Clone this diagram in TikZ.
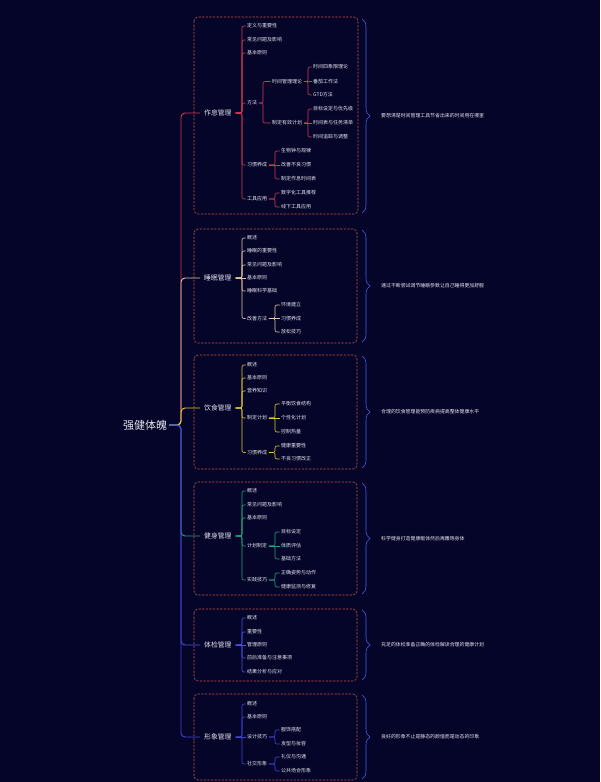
\documentclass[tikz,border=0pt]{standalone}
\usepackage{fontspec}
\setmainfont{Noto Sans CJK SC}
\usetikzlibrary{decorations.pathreplacing}
\definecolor{bg}{HTML}{05052A}
\definecolor{cZx}{HTML}{D63A50}
\definecolor{cSm}{HTML}{E6C8A0}
\definecolor{cYs}{HTML}{E3C62E}
\definecolor{cJs}{HTML}{23A57A}
\definecolor{cTj}{HTML}{4B50E3}
\definecolor{cXx}{HTML}{4046D8}
\definecolor{boxc}{HTML}{C8543A}
\definecolor{bracec}{HTML}{4D5BE6}
\definecolor{txt}{HTML}{E4E4EE}
\tikzset{
  rootst/.style={text=txt,inner sep=2pt,font=\fontsize{11}{13}\selectfont},
  mainst/.style={text=txt,anchor=west,inner sep=4pt,font=\fontsize{6.8}{8}\selectfont},
  leaf/.style={text=txt,anchor=west,inner sep=1.5pt,font=\fontsize{5}{6}\selectfont},
  sumst/.style={text=txt,anchor=west,inner sep=1pt,font=\fontsize{4.9}{6}\selectfont},
  mainlink/.style={line width=0.9pt,rounded corners=4pt},
  link/.style={line width=0.6pt,rounded corners=2pt},
  boxst/.style={draw=boxc,line width=0.6pt,dash pattern=on 2.2pt off 1.4pt,rounded corners=4pt},
  bracest/.style={draw=bracec,line width=0.6pt,decorate,decoration={brace,amplitude=8pt}}
}
\newcommand\lnk[4]{\draw[link,#1] (#2.east) -- (#2.east -| #3,0) |- (#4.west);}
\newcommand\lnks[3]{\draw[link,#1] (#2.east) -- (#3.west);}
\begin{document}
\begin{tikzpicture}[x=1pt,y=-1pt]
\fill[bg] (0,0) rectangle (600,782);
\useasboundingbox (0,0) rectangle (600,782);

% boxes
\draw[boxst] (194,17) rectangle (358,214);
\draw[boxst] (194,229) rectangle (357,343);
\draw[boxst] (194,355) rectangle (357,469);
\draw[boxst] (194,482) rectangle (357,595);
\draw[boxst] (194,609) rectangle (357,681);
\draw[boxst] (194,694) rectangle (357,780);

% braces
\draw[bracest] (362,19) -- (362,213);
\draw[bracest] (362,230) -- (362,342);
\draw[bracest] (362,356) -- (362,468);
\draw[bracest] (362,483) -- (362,594);
\draw[bracest] (362,610) -- (362,680);
\draw[bracest] (362,695) -- (362,779);

% root and main branches
\node[rootst] (root) at (145,425) {强健体魄};
\node[mainst] (zx) at (200,113) {作息管理};
\node[mainst] (sm) at (200,278) {睡眠管理};
\node[mainst] (ys) at (200,408) {饮食管理};
\node[mainst] (js) at (200,536) {健身管理};
\node[mainst] (tj) at (200,645) {体检管理};
\node[mainst] (xx) at (200,737) {形象管理};

\draw[mainlink,cZx] (root.east) -- (root.east -| 181,0) |- (zx.west);
\draw[mainlink,cSm] (root.east) -- (root.east -| 181,0) |- (sm.west);
\draw[mainlink,cYs] (root.east) -- (root.east -| 181,0) |- (ys.west);
\draw[mainlink,cJs] (root.east) -- (root.east -| 181,0) |- (js.west);
\draw[mainlink,cTj] (root.east) -- (root.east -| 181,0) |- (tj.west);
\draw[mainlink,cXx] (root.east) -- (root.east -| 181,0) |- (xx.west);

% ---- box 1 作息管理
\node[leaf] (z1) at (245.5,26) {定义与重要性};
\node[leaf] (z2) at (245.5,40) {常见问题及影响};
\node[leaf] (z3) at (245.5,53) {基本原则};
\node[leaf] (z4) at (245.5,103) {方法};
\node[leaf] (z5) at (245.5,165) {习惯养成};
\node[leaf] (z6) at (245.5,199) {工具应用};
\node[leaf] (z41) at (270.5,81.5) {时间管理理论};
\node[leaf] (z42) at (270.5,123) {制定有效计划};
\node[leaf] (z411) at (311.5,67) {时间四象限理论};
\node[leaf] (z412) at (311.5,81.5) {番茄工作法};
\node[leaf] (z413) at (311.5,95) {GTD方法};
\node[leaf] (z421) at (311.5,109) {目标设定与优先级};
\node[leaf] (z422) at (311.5,123) {时间表与任务清单};
\node[leaf] (z423) at (311.5,137) {时间追踪与调整};
\node[leaf] (z51) at (279.5,151) {生物钟与规律};
\node[leaf] (z52) at (279.5,165) {改善不良习惯};
\node[leaf] (z53) at (279.5,179) {制定作息时间表};
\node[leaf] (z61) at (279.5,193) {数字化工具推荐};
\node[leaf] (z62) at (279.5,207) {线下工具应用};
\foreach \c in {z1,z2,z3,z4,z5,z6}{\lnk{cZx}{zx}{242}{\c}}
\lnk{cZx}{z4}{263}{z41}
\lnk{cZx}{z4}{263}{z42}
\lnk{cZx}{z41}{308}{z411}
\lnks{cZx}{z41}{z412}
\lnk{cZx}{z41}{308}{z413}
\lnk{cZx}{z42}{308}{z421}
\lnks{cZx}{z42}{z422}
\lnk{cZx}{z42}{308}{z423}
\lnk{cZx}{z5}{275}{z51}
\lnks{cZx}{z5}{z52}
\lnk{cZx}{z5}{275}{z53}
\lnk{cZx}{z6}{275}{z61}
\lnk{cZx}{z6}{275}{z62}

% ---- box 2 睡眠管理
\node[leaf] (s1) at (245.5,238) {概述};
\node[leaf] (s2) at (245.5,251) {睡眠的重要性};
\node[leaf] (s3) at (245.5,265) {常见问题及影响};
\node[leaf] (s4) at (245.5,278) {基本原则};
\node[leaf] (s5) at (245.5,291) {睡眠科学基础};
\node[leaf] (s6) at (245.5,318.5) {改善方法};
\node[leaf] (s61) at (279.5,305) {环境建立};
\node[leaf] (s62) at (279.5,318.5) {习惯养成};
\node[leaf] (s63) at (279.5,332) {放松技巧};
\foreach \c in {s1,s2,s3,s5,s6}{\lnk{cSm}{sm}{242}{\c}}
\lnks{cSm}{sm}{s4}
\lnk{cSm}{s6}{275}{s61}
\lnks{cSm}{s6}{s62}
\lnk{cSm}{s6}{275}{s63}

% ---- box 3 饮食管理
\node[leaf] (y1) at (245.5,365) {概述};
\node[leaf] (y2) at (245.5,378) {基本原则};
\node[leaf] (y3) at (245.5,391) {营养知识};
\node[leaf] (y4) at (245.5,418) {制定计划};
\node[leaf] (y5) at (245.5,452.5) {习惯养成};
\node[leaf] (y41) at (279.5,404) {平衡饮食结构};
\node[leaf] (y42) at (279.5,418) {个性化计划};
\node[leaf] (y43) at (279.5,432) {控制热量};
\node[leaf] (y51) at (279.5,446) {健康重要性};
\node[leaf] (y52) at (279.5,459) {不良习惯改正};
\foreach \c in {y1,y2,y3,y4,y5}{\lnk{cYs}{ys}{242}{\c}}
\lnk{cYs}{y4}{275}{y41}
\lnks{cYs}{y4}{y42}
\lnk{cYs}{y4}{275}{y43}
\lnk{cYs}{y5}{275}{y51}
\lnk{cYs}{y5}{275}{y52}

% ---- box 4 健身管理
\node[leaf] (j1) at (245.5,491) {概述};
\node[leaf] (j2) at (245.5,505) {常见问题及影响};
\node[leaf] (j3) at (245.5,518) {基本原则};
\node[leaf] (j4) at (245.5,546) {计划制定};
\node[leaf] (j5) at (245.5,580) {实践技巧};
\node[leaf] (j41) at (279.5,532) {目标设定};
\node[leaf] (j42) at (279.5,546) {体质评估};
\node[leaf] (j43) at (279.5,559) {基础方法};
\node[leaf] (j51) at (279.5,573) {正确姿势与动作};
\node[leaf] (j52) at (279.5,587) {健康监测与修复};
\foreach \c in {j1,j2,j3,j4,j5}{\lnk{cJs}{js}{242}{\c}}
\lnk{cJs}{j4}{275}{j41}
\lnks{cJs}{j4}{j42}
\lnk{cJs}{j4}{275}{j43}
\lnk{cJs}{j5}{275}{j51}
\lnk{cJs}{j5}{275}{j52}

% ---- box 5 体检管理
\node[leaf] (t1) at (245.5,618) {概述};
\node[leaf] (t2) at (245.5,632) {重要性};
\node[leaf] (t3) at (245.5,645) {管理原则};
\node[leaf] (t4) at (245.5,658) {前后准备与注意事项};
\node[leaf] (t5) at (245.5,672) {结果分析与应对};
\foreach \c in {t1,t2,t4,t5}{\lnk{cTj}{tj}{242}{\c}}
\lnks{cTj}{tj}{t3}

% ---- box 6 形象管理
\node[leaf] (x1) at (245.5,704) {概述};
\node[leaf] (x2) at (245.5,717) {基本原则};
\node[leaf] (x3) at (245.5,737) {设计技巧};
\node[leaf] (x4) at (245.5,764) {社交形象};
\node[leaf] (x31) at (279.5,730) {服饰搭配};
\node[leaf] (x32) at (279.5,744) {发型与妆容};
\node[leaf] (x41) at (279.5,757) {礼仪与沟通};
\node[leaf] (x42) at (279.5,771) {公共场合形象};
\foreach \c in {x1,x2,x4}{\lnk{cXx}{xx}{242}{\c}}
\lnks{cXx}{xx}{x3}
\lnk{cXx}{x3}{275}{x31}
\lnk{cXx}{x3}{275}{x32}
\lnk{cXx}{x4}{275}{x41}
\lnk{cXx}{x4}{275}{x42}

% summaries
\node[sumst] (m1) at (380,116) {要想清楚时间管理工具节省出来的时间用在哪里};
\node[sumst] (m2) at (380,286) {通过不断尝试调节睡眠参数让自己睡得更加舒服};
\node[sumst] (m3) at (380,412) {合理的饮食管理能预防疾病提高整体健康水平};
\node[sumst] (m4) at (380,539) {科学健身打造健康躯体然后再雕琢身体};
\node[sumst] (m5) at (380,645) {充足的体检准备正确的体检解读合理的健康计划};
\node[sumst] (m6) at (380,737) {良好的形象不止是静态的颜值而是动态的印象};
\end{tikzpicture}
\end{document}
